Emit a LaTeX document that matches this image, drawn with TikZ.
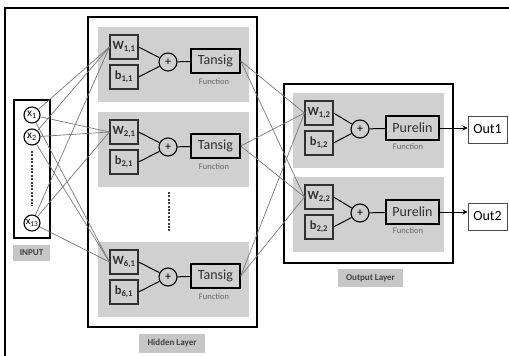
\documentclass[tikz,border=0pt]{standalone}
\usepackage{fontspec}
\setmainfont{Carlito}
\usetikzlibrary{arrows.meta}
\definecolor{panelgray}{HTML}{D0D0D0}
\definecolor{taggray}{HTML}{C6C6C6}
\definecolor{edgegray}{HTML}{303030}
\definecolor{wiregray}{HTML}{787878}

\begin{document}
\begin{tikzpicture}[x=1pt,y=-1pt,
  layerbox/.style={draw=black,line width=1.4},
  wbbox/.style={draw=edgegray,line width=1.1,fill=panelgray,minimum width=28,minimum height=24,
    inner sep=0,font=\fontsize{12.5}{12.5}\selectfont\bfseries,text=edgegray},
  sumnode/.style={circle,draw=black,line width=1.1,fill=panelgray,minimum size=18,inner sep=0,
    font=\fontsize{12}{12}\selectfont},
  funbox/.style={draw=black,line width=1.5,minimum height=24,inner sep=0,
    font=\fontsize{14}{14}\selectfont,text=edgegray},
  funlabel/.style={inner sep=0,font=\fontsize{8.5}{8.5}\selectfont,text=black!60},
  innode/.style={circle,draw=black,line width=1.1,fill=white,minimum size=16,inner sep=0,
    font=\fontsize{11.5}{11.5}\selectfont},
  layertag/.style={fill=taggray,inner sep=0,font=\fontsize{9}{9}\selectfont\bfseries,text=black!75},
  wire/.style={draw=wiregray,line width=0.7},
  link/.style={draw=black,line width=1},
  outbox/.style={draw=black!70,line width=1,minimum width=39,minimum height=27,inner sep=0,
    font=\fontsize{14}{14}\selectfont}
]
\useasboundingbox (0,0) rectangle (509,356);
\fill[white] (0,0) rectangle (509,356);

% outer frame
\draw[line width=1.6] (5,356) -- (5,8) -- (509,8);

% input column
\draw[layerbox] (14,100) rectangle (50,238);
\node[innode] (x1) at (32,115) {x\textsubscript{1}};
\node[innode] (x2) at (32,137) {x\textsubscript{2}};
\node[innode,font=\fontsize{10.5}{10.5}\selectfont] (x13) at (32,223) {x\textsubscript{13}};
\draw[black!75,line width=2,dash pattern=on 2 off 1.4] (32,151) -- (32,206);
\node[layertag,minimum width=37,minimum height=16] (tin) at (31.5,253) {INPUT};

% hidden layer
\draw[layerbox] (88,17) rectangle (257,327);
\foreach \t/\i in {27/1,112/2,242/6}{
  \fill[panelgray] (98,\t) rectangle (249,\t+75);
  \node[wbbox] (W\i) at (124,\t+20) {W\textsubscript{\i,1}};
  \node[wbbox] (b\i) at (124,\t+50) {b\textsubscript{\i,1}};
  \node[sumnode] (s\i) at (168,\t+35) {+};
  \node[funbox,minimum width=49] (f\i) at (215.5,\t+34) {Tansig};
  \node[funlabel] (fl\i) at (214,\t+55) {Function};
  \draw[link] (W\i.east) -- (s\i);
  \draw[link] (b\i.east) -- (s\i);
  \draw[link] (s\i) -- (f\i);
}
\draw[black!75,line width=1.8,dash pattern=on 2 off 1.4] (169,192) -- (169,232);
\node[layertag,minimum width=66,minimum height=19] (thid) at (172,343.5) {Hidden Layer};

% output layer
\draw[layerbox] (284,84) rectangle (453,263);
\foreach \t/\i in {93/1,177/2}{
  \fill[panelgray] (293,\t) rectangle (444,\t+75);
  \node[wbbox] (V\i) at (319,\t+20) {W\textsubscript{\i,2}};
  \node[wbbox] (c\i) at (319,\t+50) {b\textsubscript{\i,2}};
  \node[sumnode] (p\i) at (360,\t+36) {+};
  \node[funbox,minimum width=53] (g\i) at (412.5,\t+35) {Purelin};
  \node[funlabel] (gl\i) at (408,\t+54) {Function};
  \draw[link] (V\i.east) -- (p\i);
  \draw[link] (c\i.east) -- (p\i);
  \draw[link] (p\i) -- (g\i);
}
\node[layertag,minimum width=65,minimum height=18] (tout) at (370.5,278) {Output Layer};

% outputs
\node[outbox] (o1) at (487.5,129.5) {Out1};
\node[outbox] (o2) at (487.5,216.5) {Out2};
\foreach \i in {1,2}
  \draw[link,-{Stealth[length=5,width=5]}] (g\i.east) -- (g\i.east -| o\i.west);

% weighted connections
\foreach \a in {x1,x2,x13}
  \foreach \b in {W1,W2,W6}
    \draw[wire] (\a) -- (\b.west);
\foreach \a in {f1,f2,f6}
  \foreach \b in {V1,V2}
    \draw[wire] (\a.east) -- (\b.west);
\end{tikzpicture}
\end{document}
